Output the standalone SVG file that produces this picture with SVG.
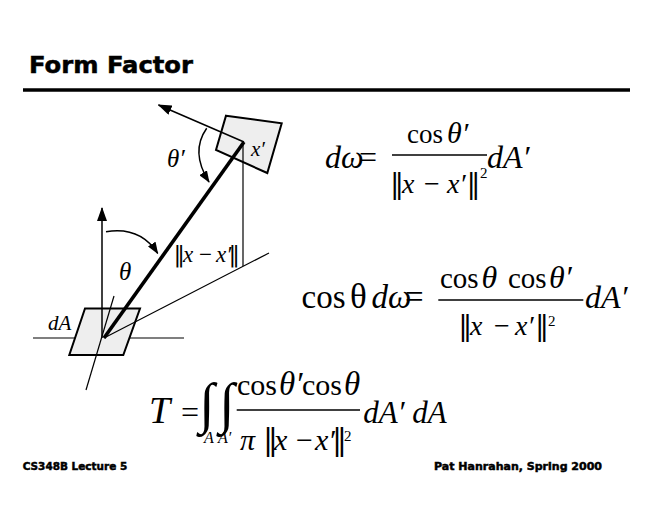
<svg xmlns="http://www.w3.org/2000/svg" width="660" height="510" viewBox="0 0 660 510">
<defs>
<style>
.hd{font-family:"DejaVu Sans","Liberation Sans",sans-serif;font-weight:bold;fill:#000;stroke:#000;stroke-width:0.5}
.m{font-family:"Liberation Serif","DejaVu Serif",serif;fill:#000}
.i{font-style:italic}
.nb{font-family:"DejaVu Serif","DejaVu Sans","Liberation Serif",serif;font-style:normal}
.surf{fill:#eeeeee;stroke:#000;stroke-width:2;stroke-linejoin:miter}
.thin{stroke:#000;stroke-width:1.2;fill:none}
.thick{stroke:#000;stroke-width:3.6;fill:none}
.arr{stroke:#000;stroke-width:1.5;fill:none}
.frac{stroke:#000;stroke-width:1.3}
</style>
<marker id="ah" viewBox="0 0 14 10" refX="13" refY="5" markerWidth="14" markerHeight="10" markerUnits="userSpaceOnUse" orient="auto">
<path d="M0,0 L14,5 L0,10 z" fill="#000"/>
</marker>
<marker id="ahs" viewBox="0 0 12 9" refX="11" refY="4.5" markerWidth="12" markerHeight="9" markerUnits="userSpaceOnUse" orient="auto">
<path d="M0,0 L12,4.5 L0,9 z" fill="#000"/>
</marker>
</defs>
<rect width="660" height="510" fill="#fff"/>

<g id="title">
<text class="hd" x="29" y="73" font-size="23" textLength="164" lengthAdjust="spacingAndGlyphs">Form Factor</text>
<line x1="23" y1="90" x2="630" y2="90" stroke="#000" stroke-width="3.6"/>
</g>

<g id="surface-dA">
<line class="thin" x1="33" y1="338" x2="184" y2="338"/>
<polygon class="surf" points="85,308.5 140,308.5 123.3,355 69.3,355"/>
</g>

<g id="surface-dAprime">
<polygon class="surf" points="226,115.7 281.7,123.3 267.3,173 216,150"/>
</g>

<g id="connectors">
<line class="thin" x1="86" y1="390" x2="114" y2="296"/>
<line class="thin" x1="104" y1="338" x2="269" y2="253"/>
<line class="thin" x1="243" y1="142" x2="243" y2="266"/>
<line class="thick" x1="104" y1="338" x2="244" y2="142"/>
<line class="arr" x1="102" y1="338" x2="102" y2="208" marker-end="url(#ah)"/>
<line class="arr" x1="244" y1="142" x2="158.5" y2="105" marker-end="url(#ah)"/>
<path class="arr" d="M206.7,128.3 Q190,152 209,182" marker-end="url(#ahs)"/>
<path class="arr" d="M106,231.7 Q140,226 157.7,253.3" marker-end="url(#ahs)"/>
</g>

<g id="labels">
<text class="m i" x="167" y="167" font-size="25">θ′</text>
<text class="m i" x="251" y="156" font-size="21">x′</text>
<text class="m i" x="119" y="280" font-size="25">θ</text>
<text class="m i" x="48" y="330" font-size="21">dA</text>
<text class="m" y="262" font-size="23"><tspan class="nb" x="173.5">‖</tspan><tspan class="i" x="183">x</tspan><tspan x="199">−</tspan><tspan class="i" x="216">x′</tspan><tspan class="nb" x="228.5">‖</tspan></text>
</g>

<g id="eq1">
<text class="m i" x="325" y="168.3" font-size="32">dω</text>
<text class="m" x="359" y="168.3" font-size="32">=</text>
<text class="m" y="143.3" font-size="27"><tspan x="407">cos</tspan><tspan class="i" x="447" font-size="30">θ′</tspan></text>
<line class="frac" x1="392" y1="155" x2="487" y2="155"/>
<text class="m" y="193.3" font-size="28"><tspan class="nb" x="390">‖</tspan><tspan class="i" x="402">x</tspan><tspan x="424">−</tspan><tspan class="i" x="447">x′</tspan><tspan class="nb" x="466.5">‖</tspan></text>
<text class="m" x="480" y="178" font-size="15">2</text>
<text class="m i" x="487" y="168.3" font-size="32">dA′</text>
</g>

<g id="eq2">
<text class="m" y="308.3" font-size="33"><tspan x="301.5">cos</tspan><tspan x="350" font-size="35">θ</tspan><tspan class="i" x="371.5">dω</tspan></text>
<text class="m" x="405" y="308.3" font-size="33">=</text>
<text class="m" y="287.7" font-size="29"><tspan x="440">cos</tspan><tspan class="i" x="481.5" font-size="32">θ</tspan><tspan x="508">cos</tspan><tspan class="i" x="549" font-size="32">θ′</tspan></text>
<line class="frac" x1="438.3" y1="300" x2="583.3" y2="300"/>
<text class="m" y="335" font-size="28"><tspan class="nb" x="458.3">‖</tspan><tspan class="i" x="470">x</tspan><tspan x="494">−</tspan><tspan class="i" x="515">x′</tspan><tspan class="nb" x="535">‖</tspan></text>
<text class="m" x="548" y="326" font-size="15">2</text>
<text class="m i" x="585" y="308.3" font-size="32">dA′</text>
</g>

<g id="eq3">
<text class="m i" x="149" y="423.3" font-size="38">T</text>
<text class="m" x="181" y="423.3" font-size="32">=</text>
<text class="m" x="199" y="422" font-size="56">∫</text>
<text class="m" x="219" y="422" font-size="56">∫</text>
<text class="m i" x="204" y="443" font-size="16">A</text>
<text class="m i" x="218" y="443" font-size="16">A′</text>
<text class="m" y="395" font-size="30"><tspan x="237">cos</tspan><tspan class="i" x="279" font-size="33">θ′</tspan><tspan x="302">cos</tspan><tspan class="i" x="344" font-size="33">θ</tspan></text>
<line class="frac" x1="236.7" y1="410" x2="360" y2="410"/>
<text class="m" y="450" font-size="30"><tspan class="i" x="240">π</tspan><tspan class="nb" x="263">‖</tspan><tspan class="i" x="274">x</tspan><tspan x="296">−</tspan><tspan class="i" x="315">x′</tspan><tspan class="nb" x="332">‖</tspan></text>
<text class="m" x="344" y="441" font-size="15">2</text>
<text class="m i" x="363.3" y="423.3" font-size="31">dA′ dA</text>
</g>

<g id="footer">
<text class="hd" x="22.7" y="470" font-size="11" textLength="104.5" lengthAdjust="spacingAndGlyphs">CS348B Lecture 5</text>
<text class="hd" x="434" y="470" font-size="11" textLength="168" lengthAdjust="spacingAndGlyphs">Pat Hanrahan, Spring 2000</text>
</g>
</svg>
